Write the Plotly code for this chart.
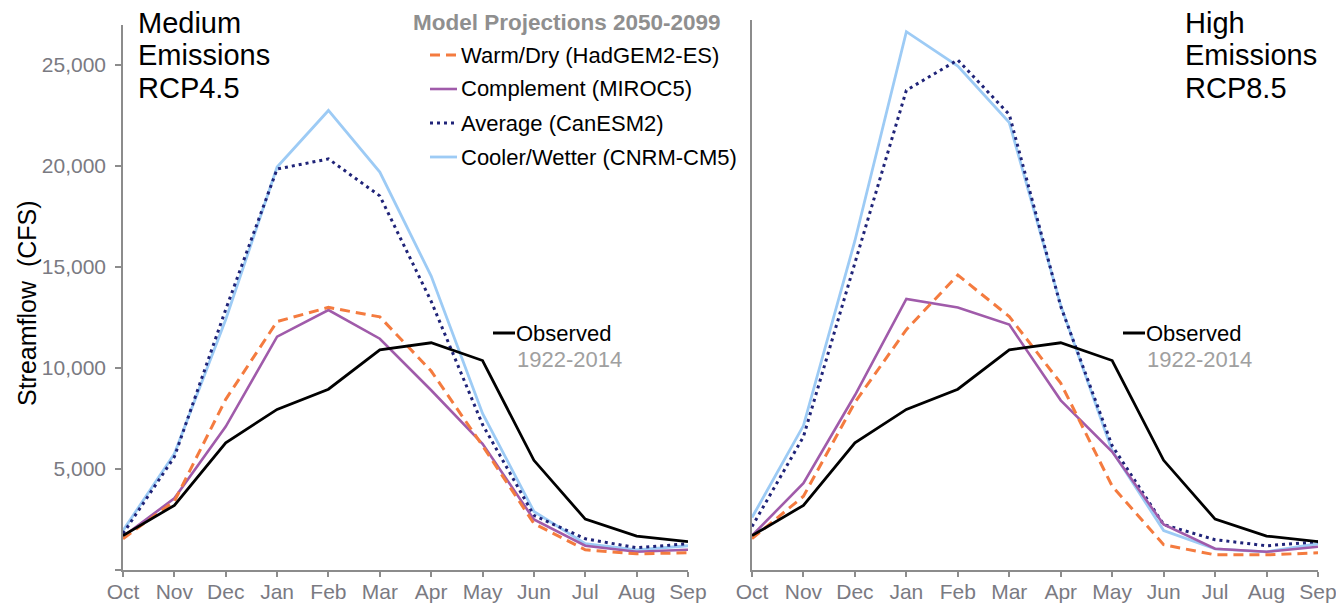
import plotly.graph_objects as go

W, H = 1344, 604
OFF = 8  # page body margin offset

months = ["Oct", "Nov", "Dec", "Jan", "Feb", "Mar", "Apr", "May", "Jun", "Jul", "Aug", "Sep"]

observed = [1700, 3200, 6300, 7950, 8950, 10900, 11250, 10370, 5430, 2520, 1680, 1400]

# Medium emissions RCP4.5
m_warm = [1550, 3400, 8450, 12300, 13000, 12530, 9850, 6150, 2300, 1000, 800, 850]
m_comp = [1650, 3550, 7100, 11550, 12870, 11450, 8900, 6250, 2500, 1200, 900, 1000]
m_avg = [1800, 5600, 12900, 19850, 20350, 18520, 13300, 7200, 2700, 1550, 1100, 1300]
m_cool = [1950, 5750, 12400, 19950, 22750, 19700, 14550, 7750, 2900, 1300, 1000, 1200]

# High emissions RCP8.5
h_warm = [1550, 3650, 8300, 11900, 14600, 12550, 9250, 4150, 1250, 750, 750, 850]
h_comp = [1700, 4300, 8650, 13420, 13000, 12150, 8400, 5850, 2250, 1050, 900, 1150]
h_avg = [2150, 6600, 15200, 23750, 25250, 22550, 13050, 6150, 2250, 1500, 1200, 1400]
h_cool = [2600, 7150, 16300, 26650, 24950, 22150, 13100, 5900, 1950, 1050, 900, 1300]

series_names = ["Warm/Dry (HadGEM2-ES)", "Complement (MIROC5)", "Average (CanESM2)", "Cooler/Wetter (CNRM-CM5)"]
ytick_vals = [0, 5000, 10000, 15000, 20000, 25000]
ytick_text = ["", "5,000", "10,000", "15,000", "20,000", "25,000"]

C_WARM = "#F47B3F"
C_COMP = "#A05BAA"
C_AVG = "#1F2378"
C_COOL = "#9DCBF5"
C_AXIS = "#8C8C8C"
C_TICK = "#7A7A82"

styles = [
    dict(color=C_WARM, width=3, dash="10px,6px"),
    dict(color=C_COMP, width=2.6, dash="solid"),
    dict(color=C_AVG, width=3, dash="3px,4px"),
    dict(color=C_COOL, width=2.8, dash="solid"),
]

fig = go.Figure()

panels = [("x", "y", [m_warm, m_comp, m_avg, m_cool]), ("x2", "y2", [h_warm, h_comp, h_avg, h_cool])]
for xa, ya, data in panels:
    for idx in [3, 2, 1, 0]:
        fig.add_trace(go.Scatter(x=months, y=data[idx], mode="lines", name=series_names[idx],
                                 line=styles[idx], xaxis=xa, yaxis=ya, showlegend=False))
    fig.add_trace(go.Scatter(x=months, y=observed, mode="lines", name="Observed",
                             line=dict(color="#000000", width=2.8), xaxis=xa, yaxis=ya, showlegend=False))

def px_x(p):
    return (p - OFF) / W

def px_y(p):
    return 1 - (p - OFF) / H

ydom = [px_y(570), px_y(25)]
YMAX = 26980
tickfont = dict(family="Liberation Sans Narrow, Arial Narrow, Liberation Sans, Arial", size=21, color=C_TICK)

xcommon = dict(type="category", range=[0, 11], showgrid=False, zeroline=False, showline=True,
               linecolor=C_AXIS, linewidth=1.5, ticks="outside", ticklen=5, tickcolor=C_AXIS,
               tickwidth=1.5, tickfont=tickfont, automargin=False, ticklabelstandoff=-3,
               categoryorder="array", categoryarray=months)

fig.update_layout(
    width=W, height=H,
    margin=dict(l=0, r=0, t=0, b=0),
    paper_bgcolor="white", plot_bgcolor="white",
    showlegend=False,
    xaxis=dict(xcommon, domain=[px_x(123), px_x(688)], anchor="y"),
    xaxis2=dict(xcommon, domain=[px_x(752), px_x(1318)], anchor="y2"),
    yaxis=dict(domain=ydom, range=[0, YMAX], showgrid=False, zeroline=False, showline=True,
               linecolor=C_AXIS, linewidth=1.5, ticks="outside", ticklen=6, tickcolor=C_AXIS,
               tickwidth=1.5, tickvals=ytick_vals, ticktext=ytick_text, tickfont=tickfont,
               ticklabelstandoff=5, anchor="x", automargin=False),
    yaxis2=dict(domain=[px_y(570), px_y(20)], range=[0, YMAX * (550 / 545)], showgrid=False,
                zeroline=False, showline=True, linecolor=C_AXIS, linewidth=1.5, ticks="",
                showticklabels=False, anchor="x2", automargin=False),
)

font_main = "Liberation Sans, Arial, sans-serif"
ann = []

def text(x, y, s, size, color="#000000", anchor="left", bold=False, angle=0):
    ann.append(dict(x=px_x(x), y=px_y(y), xref="paper", yref="paper", text=(f"<b>{s}</b>" if bold else s),
                    showarrow=False, xanchor=anchor, yanchor="middle", textangle=angle,
                    font=dict(family=font_main, size=size, color=color)))

# panel titles
for i, line in enumerate(["Medium", "Emissions", "RCP4.5"]):
    text(136, 23 + i * 32.5, line, 29)
for i, line in enumerate(["High", "Emissions", "RCP8.5"]):
    text(1183, 23 + i * 32.5, line, 29)

# y axis title
text(27, 303, "Streamflow\u00a0\u00a0(CFS)", 25, anchor="center", angle=-90)

# legend
text(411, 22, "Model Projections 2050-2099", 22.5, color="#8F8F8F", bold=True)
shapes = []
rows = [55, 89, 123, 157]
for i, r in enumerate(rows):
    st = styles[i]
    shapes.append(dict(type="line", xref="paper", yref="paper", x0=px_x(430), x1=px_x(457),
                       y0=px_y(r), y1=px_y(r), line=dict(color=st["color"], width=st["width"], dash=st["dash"])))
    text(459, r, series_names[i], 22)

# observed labels
for lx in [493, 1123]:
    shapes.append(dict(type="line", xref="paper", yref="paper", x0=px_x(lx), x1=px_x(lx + 22),
                       y0=px_y(333), y1=px_y(333), line=dict(color="#000000", width=3)))
    text(lx + 21, 333, "Observed", 22)
    text(lx + 22, 359, "1922-2014", 22, color="#A0A0A0")

fig.update_layout(annotations=ann, shapes=shapes)

fig.write_html("out.html")
